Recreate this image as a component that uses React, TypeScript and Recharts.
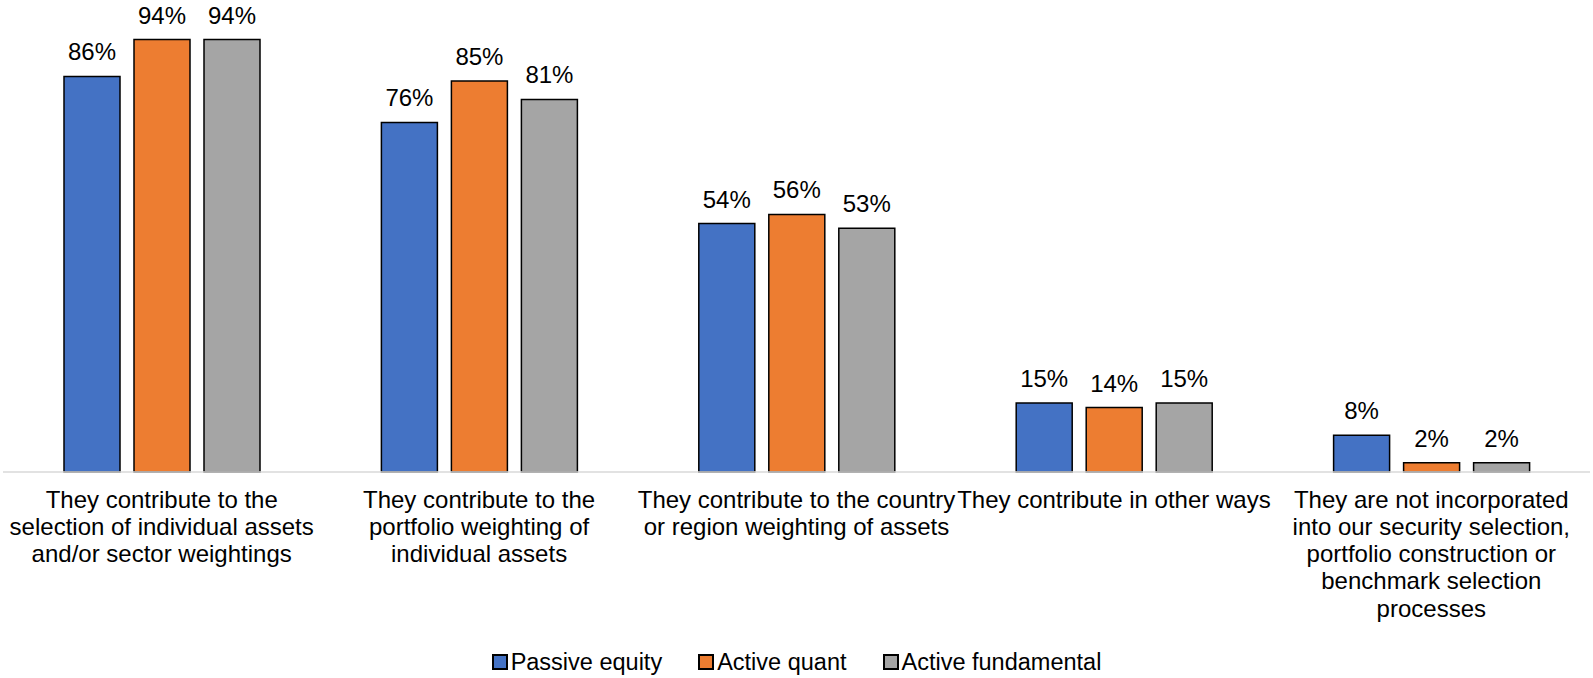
import React from "react";
import { BarChart, Bar, XAxis, YAxis, LabelList, Legend } from "recharts";

const categories = [
  "They contribute to the\nselection of individual assets\nand/or sector weightings",
  "They contribute to the\nportfolio weighting of\nindividual assets",
  "They contribute to the country\nor region weighting of assets",
  "They contribute in other ways",
  "They are not incorporated\ninto our security selection,\nportfolio construction or\nbenchmark selection\nprocesses",
];
const passiveEquity = [86, 76, 54, 15, 8];
const activeQuant = [94, 85, 56, 14, 2];
const activeFundamental = [94, 81, 53, 15, 2];

const seriesNames = ["Passive equity", "Active quant", "Active fundamental"];
const seriesColors = ["#4472C4", "#ED7D31", "#A5A5A5"];

const data = categories.map((c, i) => ({
  category: c,
  passive: passiveEquity[i],
  quant: activeQuant[i],
  fundamental: activeFundamental[i],
}));

const FONT = "'Liberation Sans', Arial, sans-serif";

const CategoryTick = (props: any) => {
  const { x, y, payload } = props;
  const lines = String(payload.value).split("\n");
  return (
    <text x={x} y={y} textAnchor="middle" fontFamily={FONT} fontSize={24} fill="#000">
      {lines.map((l, i) => (
        <tspan key={i} x={x} dy={i === 0 ? 35.5 : 27.3}>
          {l}
        </tspan>
      ))}
    </text>
  );
};

const LegendContent = () => (
  <div
    style={{
      height: 40,
      boxSizing: "border-box",
      paddingTop: 8,
      display: "flex",
      justifyContent: "center",
      alignItems: "center",
      fontFamily: FONT,
      fontSize: 23.5,
      color: "#000",
      whiteSpace: "nowrap",
    }}
  >
    {seriesNames.map((n, i) => (
      <div key={n} style={{ display: "flex", alignItems: "center", marginRight: i < 2 ? 36 : 0 }}>
        <span
          style={{
            display: "inline-block",
            width: 12,
            height: 12,
            background: seriesColors[i],
            border: "2px solid #000",
            marginRight: 3,
          }}
        />
        <span>{n}</span>
      </div>
    ))}
  </div>
);

const pct = (v: any) => `${v}%`;

export default function App() {
  const keys = ["passive", "quant", "fundamental"];
  return (
    <div style={{ position: "absolute", left: 0, top: 0, background: "#fff" }}>
      <BarChart
        width={1593}
        height={678}
        data={data}
        margin={{ top: 12, right: 3, left: 3, bottom: 0 }}
        barSize={56}
        barGap={14}
      >
        <XAxis
          dataKey="category"
          interval={0}
          tick={<CategoryTick />}
          tickLine={false}
          tickSize={0}
          tickMargin={0}
          height={166}
          axisLine={{ stroke: "#D9D9D9", strokeWidth: 1.5 }}
        />
        <YAxis hide domain={[0, 100]} />
        <Legend verticalAlign="bottom" content={<LegendContent />} />
        {keys.map((k, i) => (
          <Bar
            key={k}
            dataKey={k}
            name={seriesNames[i]}
            fill={seriesColors[i]}
            stroke="#000"
            strokeWidth={1.5}
            isAnimationActive={false}
          >
            <LabelList
              dataKey={k}
              position="top"
              offset={16}
              formatter={pct}
              fontFamily={FONT}
              fontSize={24}
              fill="#000"
            />
          </Bar>
        ))}
      </BarChart>
    </div>
  );
}
